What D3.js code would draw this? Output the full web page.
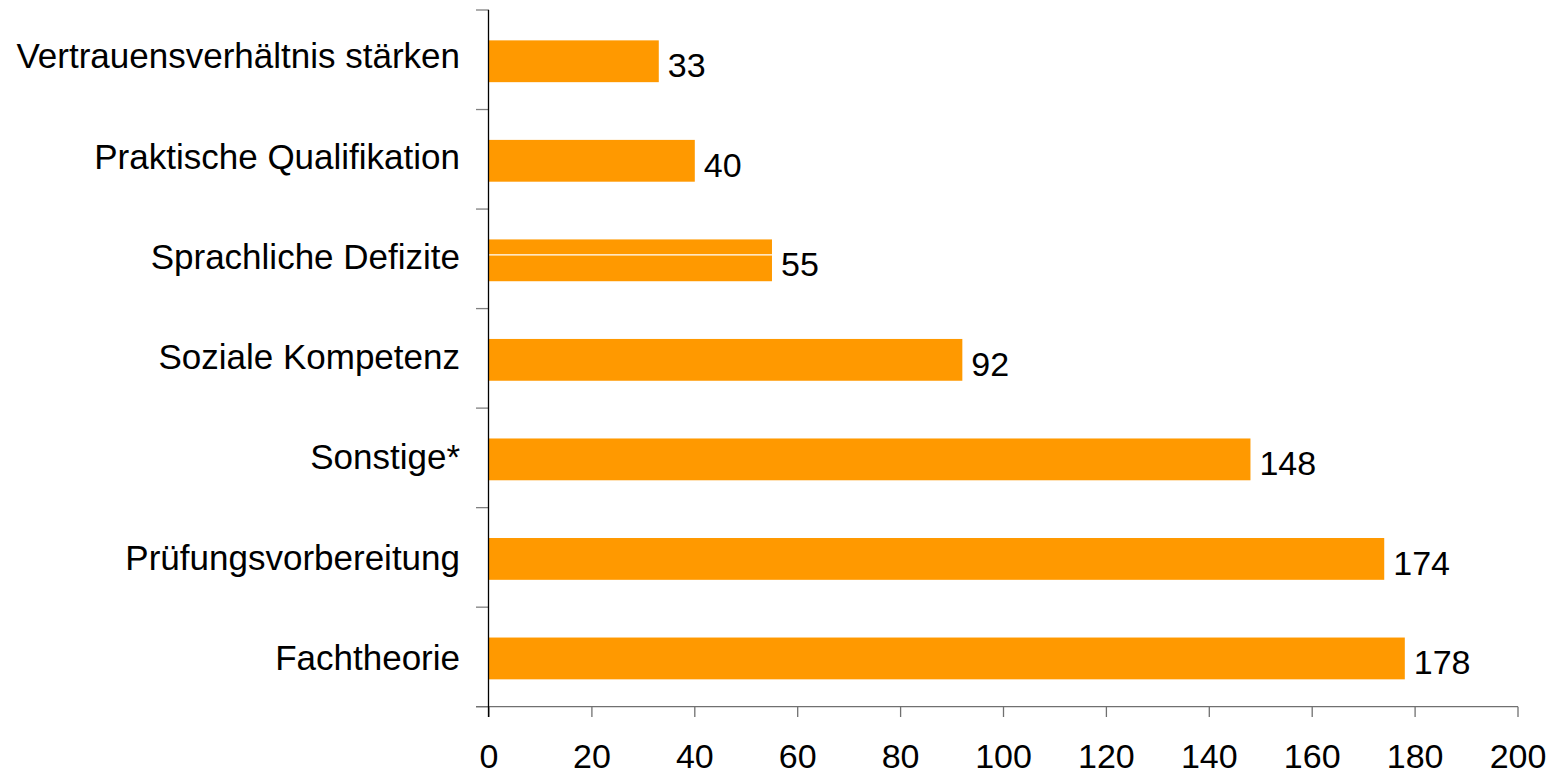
<!DOCTYPE html>
<html><head><meta charset="utf-8">
<script src="https://cdn.jsdelivr.net/npm/d3@7"></script>
<style>body{margin:0;background:#fff}svg{display:block}text{font-family:"Liberation Sans",Arial,sans-serif;fill:#000}</style>
</head><body><svg id="c" width="1551" height="774"></svg>
<script>
const categories = ["Vertrauensverhältnis stärken","Praktische Qualifikation","Sprachliche Defizite","Soziale Kompetenz","Sonstige*","Prüfungsvorbereitung","Fachtheorie"];
const values = [33,40,55,92,148,174,178];
const xTicks = [0,20,40,60,80,100,120,140,160,180,200];
const splitCategories = ["Sprachliche Defizite"];

const svg = d3.select("#c");
const x = d3.scaleLinear().domain([0,200]).range([489,1518]);
const y = d3.scaleBand().domain(categories).range([11.5,708.2]).paddingInner(0.58).paddingOuter(0.29);
const yLab = d3.scalePoint().domain(categories).range([68.3,670]);
const fsCat = 35, fsNum = 34;

// bars
svg.selectAll("rect.bar").data(categories).join("rect")
  .attr("x", x(0)).attr("y", d=>y(d)).attr("width", (d,i)=>x(values[i])-x(0)).attr("height", y.bandwidth())
  .attr("fill","#ff9900");
svg.selectAll("line.split").data(splitCategories).join("line")
  .attr("x1", x(0)).attr("x2", d=>x(values[categories.indexOf(d)]))
  .attr("y1", d=>y(d)+y.bandwidth()/2-5.5).attr("y2", d=>y(d)+y.bandwidth()/2-5.5)
  .attr("stroke","#fff").attr("stroke-width",1.2);

// value labels
svg.selectAll("text.val").data(categories).join("text")
  .attr("x",(d,i)=>x(values[i])+9).attr("y", d=>y(d)+y.bandwidth()/2+16)
  .attr("font-size",fsNum).text((d,i)=>values[i]);

// category labels
svg.selectAll("text.cat").data(categories).join("text")
  .attr("x",460).attr("y", d=>yLab(d))
  .attr("text-anchor","end").attr("font-size",fsCat).text(d=>d);

// y-axis ticks (band boundaries)
const step = y.step();
const bounds = d3.range(categories.length+1).map(i=>10+i*step);
svg.selectAll("line.yt").data(bounds).join("line")
  .attr("x1",476).attr("x2",489).attr("y1",d=>d).attr("y2",d=>d)
  .attr("stroke","#808080").attr("stroke-width",1.3);

// x axis
svg.append("line").attr("x1",476).attr("x2",x(200)).attr("y1",706.7).attr("y2",706.7).attr("stroke","#707070").attr("stroke-width",1.3);
svg.selectAll("line.xt").data(xTicks).join("line")
  .attr("x1",d=>x(d)).attr("x2",d=>x(d)).attr("y1",706.7).attr("y2",717)
  .attr("stroke","#707070").attr("stroke-width",1.3);
svg.selectAll("text.xl").data(xTicks).join("text")
  .attr("x",d=>x(d)).attr("y",768).attr("text-anchor","middle").attr("font-size",fsNum).text(d=>d);

// y axis line
svg.append("line").attr("x1",488.5).attr("x2",488.5).attr("y1",10).attr("y2",717).attr("stroke","#000").attr("stroke-width",1.3);
</script></body></html>
